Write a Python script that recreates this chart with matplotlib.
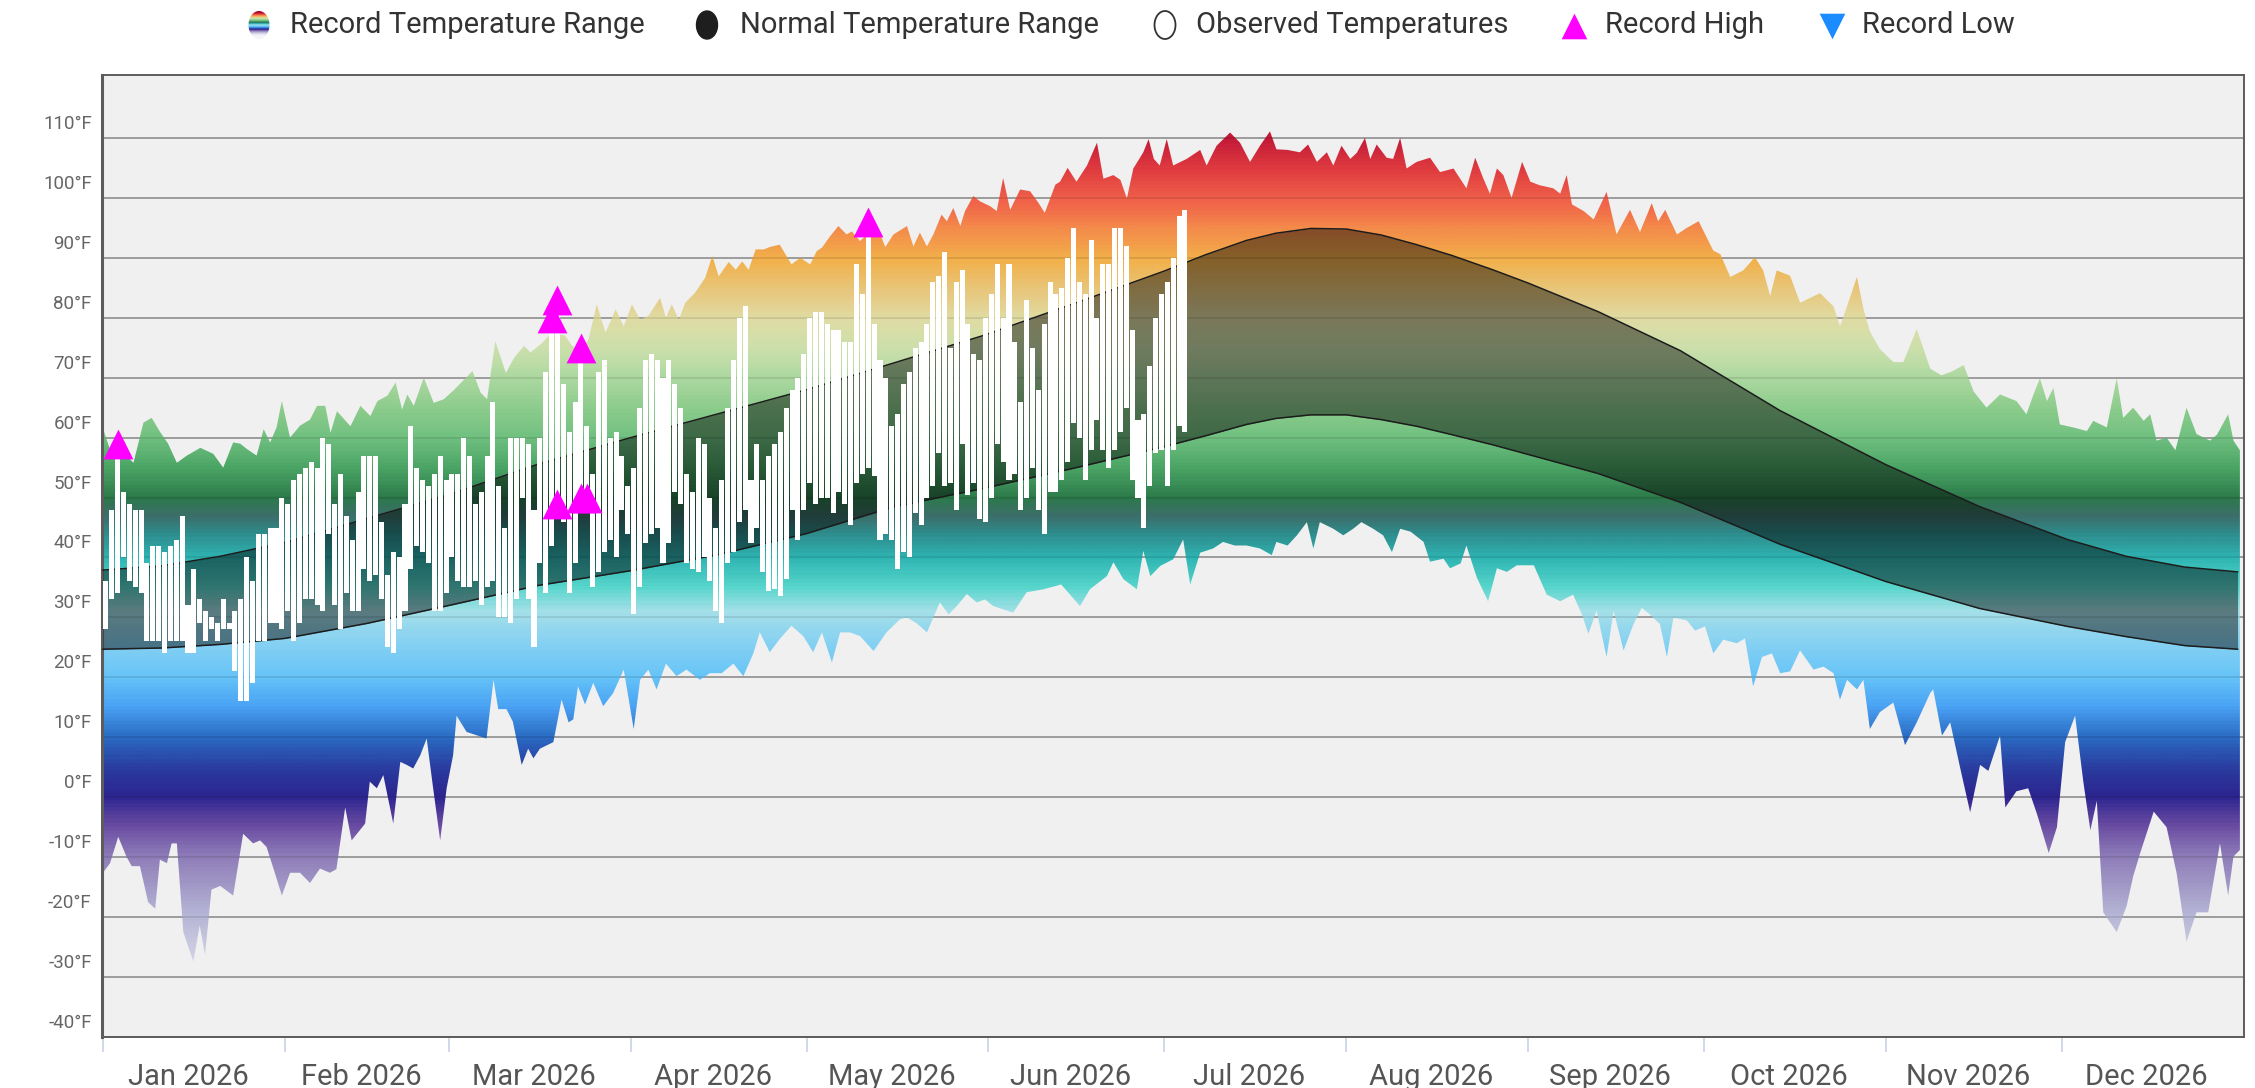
import numpy as np
import matplotlib
matplotlib.use('Agg')
import matplotlib.pyplot as plt
from matplotlib.colors import LinearSegmentedColormap
from matplotlib.patches import Polygon, Ellipse
from matplotlib.transforms import ScaledTranslation, blended_transform_factory

plt.rcParams['font.family'] = ['Roboto', 'DejaVu Sans']

# ---------------- data ----------------
month_labels = ['Jan 2026', 'Feb 2026', 'Mar 2026', 'Apr 2026', 'May 2026', 'Jun 2026',
                'Jul 2026', 'Aug 2026', 'Sep 2026', 'Oct 2026', 'Nov 2026', 'Dec 2026']
month_start = [0, 31, 59, 90, 120, 151, 181, 212, 243, 273, 304, 334, 365]
y_ticks = [-40, -30, -20, -10, 0, 10, 20, 30, 40, 50, 60, 70, 80, 90, 100, 110]

# record high edge (day of year, degF)
rec_high = [(0, 61.5), (1.2, 58), (2.3, 57.5), (4, 57), (5.2, 55.8), (6.9, 62.5), (8.3, 63.3), (9.7, 61),
            (11.1, 59), (12.6, 55.8), (14.3, 57), (16.6, 58.3), (18.8, 57.3), (20.5, 55), (22.2, 59.2),
            (23.4, 59), (24.4, 58.2), (26.2, 57), (27.4, 61.4), (28.5, 59.2), (29.6, 61.7), (30.5, 66.1),
            (31.9, 60), (33.6, 62), (35.3, 63), (36.5, 65.3), (37.9, 65.3), (38.8, 60.8), (39.9, 64.4),
            (42.2, 61.9), (43.9, 65.3), (45.6, 63.6), (46.8, 66.1), (48.5, 67), (49.9, 69.2), (51, 64.7),
            (51.9, 67.2), (53, 65.3), (54.7, 70), (56.4, 65.8), (58.1, 66.4), (59.9, 68), (61.6, 69.7),
            (63, 71.1), (64.4, 67.5), (65.5, 66.4), (66.9, 76.1), (68.7, 70.8), (70.1, 73.3), (71.8, 75.3),
            (72.9, 74.2), (74.9, 75.8), (76.5, 77.5), (78.8, 77), (80, 75.3), (81.5, 74.5), (82.8, 76.4),
            (84.2, 82.2), (85.7, 77.5), (87.4, 81.4), (88.8, 78.6), (90.2, 82.2), (91.6, 79.7), (93, 80.3),
            (95, 83.3), (96, 80), (97, 82.2), (98.2, 79.7), (99.3, 82.5), (101, 84.2), (102.7, 86.7),
            (103.9, 90.3), (105, 86.9), (106.7, 89.3), (107.9, 88), (109, 89.4), (110.1, 88), (111.3, 91.4),
            (112.7, 91.4), (113.7, 91.8), (115.4, 92.2), (117.4, 88.9), (118.9, 90), (120.6, 88.9),
            (121.7, 91.1), (122.6, 91.7), (124, 93.6), (125.4, 95.3), (126.8, 93.9), (127.7, 94.4),
            (129.1, 92.8), (130.5, 94), (132, 95.3), (133.4, 91.8), (134.8, 93.9), (137.1, 95.3),
            (138.2, 91.9), (139.3, 94.2), (140.5, 91.9), (141.6, 93.9), (143, 97.2), (143.9, 96.1),
            (145, 98.3), (146.2, 95.3), (147, 97.8), (148.4, 100.3), (149.6, 99.4), (151.3, 98.6),
            (152.4, 97.8), (153.5, 103.3), (154.7, 98), (156.4, 101.4), (158.1, 101.1), (159.5, 99.2),
            (160.6, 97.5), (162.4, 102.2), (163.2, 102.7), (164.5, 105), (166, 102.7), (167.8, 105.4),
            (169.5, 109.2), (170.6, 103.2), (172.3, 103.8), (173.5, 103), (174.6, 99.9), (175.7, 104.9),
            (177.4, 107.6), (178.3, 109.8), (179.2, 106.5), (180.2, 105.4), (181.4, 109.8), (182.5, 105.4),
            (184.8, 106.5), (187.1, 108), (188.2, 105.4), (189.9, 108.7), (192.2, 110.9), (193.9, 109.2),
            (195.6, 106), (197.3, 108.7), (199, 111.1), (200.1, 108.1), (202, 108), (204.1, 107.6),
            (205.5, 108.9), (207, 106), (208.7, 107.6), (209.8, 105.4), (211.2, 108.7), (212.7, 106.5),
            (213.8, 107.5), (215.2, 110), (216.1, 106.5), (217.2, 108.9), (218.9, 106.7), (220, 106.5),
            (221.2, 110), (222.3, 104.9), (224, 106), (226.3, 106.7), (228, 104.3), (230.3, 104.9),
            (232.5, 101.6), (234, 106.7), (235.4, 103.2), (236.5, 100.7), (237.7, 104.9), (238.8, 103.8),
            (240.2, 100), (242, 106), (243.4, 102.7), (245, 102.1), (247.3, 101.6), (248.5, 100.7),
            (249.6, 103.8), (250.5, 98.9), (252.5, 97.8), (254.2, 96.4), (256.4, 101), (258.1, 93.9),
            (260.4, 98), (262.1, 94.3), (264.1, 99.1), (265.2, 96.1), (266.4, 98), (268.4, 93.9),
            (270.1, 95), (272.1, 96.1), (274.6, 91.2), (275.8, 90.6), (277.5, 86.8), (279.7, 87.9),
            (281.7, 90.1), (283.1, 87.9), (284.3, 83.6), (285.4, 87.9), (287.7, 87), (289.4, 82.5),
            (292.8, 84.1), (295.1, 81.9), (296.2, 78.6), (297.4, 81.9), (299.1, 86.8), (300.2, 81.5),
            (301.3, 77.7), (303, 74.8), (305.3, 72.6), (307, 72.6), (309.3, 78.1), (311.6, 71.5),
            (313.5, 70.4), (315.2, 71), (317.3, 72.1), (319, 67.7), (321.2, 65), (323.5, 67.2),
            (326.3, 66.1), (328, 63.9), (329.2, 67.2), (330.3, 69.9), (331.5, 66.1), (332.6, 68.3),
            (333.7, 62.2), (336, 61.7), (338.3, 61.1), (339.4, 62.8), (341.7, 61.7), (343.4, 69.9),
            (344.5, 63.3), (346.2, 65), (348, 62.8), (349.1, 63.9), (350.2, 59.5), (351.9, 60),
            (353.4, 57.9), (355.3, 65), (357, 60.6), (359.3, 59.5), (360.5, 60.5), (362.4, 63.9),
            (363.3, 59.5), (364.4, 57.9)]

# record low edge (day of year, degF)
rec_low = [(0, -12.6), (1.2, -11), (2.6, -6.6), (4, -9.9), (4.9, -11.5), (6.3, -11.5), (7.7, -17.5),
           (8.9, -18.6), (9.7, -10.4), (10.9, -11), (11.7, -7.7), (12.6, -7.7), (13.7, -22.5), (15.4, -27.4),
           (16.5, -21.4), (17.4, -26.3), (18.5, -15.4), (20, -14.8), (22.2, -16.4), (23.9, -6.1),
           (25.6, -7.7), (26.8, -7.2), (27.9, -8.3), (29.3, -12.6), (30.5, -16.4), (31.9, -12.6),
           (33.6, -12.6), (35.3, -14.3), (37, -11.9), (38.7, -12.6), (39.8, -12), (41.3, -1.7),
           (42.4, -7.2), (43.8, -5.5), (44.7, -4.4), (45.5, 2.6), (46.7, 1.5), (47.8, 3.7), (49.5, -4.4),
           (50.7, 5.9), (51.8, 5.4), (52.9, 4.8), (54.1, 7), (55.2, 9.8), (56.3, 1.5), (57.5, -7.2),
           (58.6, 1.5), (59.7, 7), (60.3, 13.6), (62, 10.9), (65.4, 9.8), (66.6, 19.6), (67.4, 14.7),
           (68.8, 14.7), (69.9, 12.6), (71.4, 5.4), (72.5, 8.1), (73.4, 6.5), (74.5, 8.1), (76.8, 9.2),
           (78.2, 16.3), (79.4, 12.5), (80.2, 13), (81, 18.5), (82.2, 15.5), (83.6, 19.1), (85.3, 15.2),
           (87, 17.4), (88.8, 21.3), (90.5, 11.4), (91.6, 19.6), (93, 21.3), (94.4, 18), (96, 22.3),
           (97.8, 20.2), (99.5, 21.3), (101.8, 19.6), (103.5, 20.7), (105.5, 20.7), (107.5, 22.3),
           (109.2, 20.2), (110.9, 24), (112, 27.5), (113.7, 24.2), (115.4, 26.4), (117.4, 28.6),
           (119.4, 26.9), (121.1, 24.2), (122.6, 27.5), (124.3, 22.5), (125.7, 27.5), (127.4, 27.5),
           (129.1, 26.9), (131.4, 24.4), (133.6, 27.5), (135.9, 29.7), (137.1, 30), (138.8, 29),
           (140.5, 27.5), (142.7, 32.5), (144.2, 30.5), (145.6, 31.9), (147.3, 33.9), (149, 32.5),
           (150.4, 33), (151.8, 31.9), (155.2, 30.8), (157.5, 34.2), (160.4, 34.7), (163.4, 35.5),
           (166.6, 31.9), (168.3, 34.7), (171.2, 36.9), (172.3, 39.2), (174, 36.4), (176.3, 34.7),
           (177.4, 41.1), (178.6, 36.9), (180.3, 38.6), (182.5, 39.7), (184.2, 43), (185.4, 35.5),
           (187.1, 40.8), (189.3, 41.5), (191, 42.6), (193, 42), (195, 42), (197.3, 41.5), (199.3, 40.4),
           (200.1, 42.6), (202, 42), (203.6, 43.7), (205.3, 45.9), (206.4, 41.5), (207.5, 45.9),
           (209.8, 44.8), (211.5, 43.7), (213.2, 44.8), (214.6, 45.9), (216.6, 44.8), (218.3, 43.7),
           (219.8, 40.9), (221.2, 44.8), (223, 44.3), (225.2, 42.6), (226.3, 39.3), (228.6, 39.8),
           (229.7, 38.2), (231.5, 39), (232.5, 42), (234.3, 36.6), (236.2, 32.7), (237.7, 38.2),
           (239.4, 37.6), (241.1, 38.7), (244, 38.7), (246.2, 33.8), (248.5, 32.7), (250.7, 33.8),
           (252.2, 30.5), (253.3, 27.3), (254.7, 31.1), (256.4, 23.4), (257.6, 31.1), (259.3, 24.5),
           (261, 28.9), (262.4, 31.6), (263.8, 30.5), (265.5, 28.9), (266.7, 23.4), (267.8, 30),
           (270.1, 29.5), (271.5, 27.8), (273.2, 28.5), (274.6, 24), (276.3, 26.3), (278.6, 25.7),
           (280, 26.5), (281.4, 18.5), (282.9, 23.4), (284.6, 24), (286, 20.7), (287.7, 21),
           (289.4, 24.5), (291.7, 21.3), (293.4, 21.8), (295.1, 20.7), (296.2, 16.3), (297.4, 19.6),
           (299.1, 18), (300.2, 19.6), (301.3, 11.4), (303, 14.2), (305.3, 15.8), (307.3, 8.7),
           (309.3, 12.5), (311.6, 17.4), (312.1, 18), (313.6, 10.3), (315, 12.5), (316.7, 4.9),
           (318.4, -2.5), (320.1, 5.4), (321.5, 4.4), (323.5, 10.3), (324.4, -1.7), (326.3, 1),
           (328.3, 1.5), (329.8, -2.8), (331.8, -9.3), (333.2, -5), (334.6, 9.2), (336.3, 13.6),
           (337.7, 2.6), (338.9, -5.5), (340, -0.6), (341.1, -19.2), (343.4, -22.5), (345.1, -18.1),
           (346.2, -13.2), (347.4, -9.3), (349.7, -2.4), (351.9, -5), (353.6, -12.6), (355.3, -24.1),
           (357, -19.2), (359, -19.2), (361, -7.7), (362.4, -16.4), (363.3, -9.9), (364.4, -8.8)]

# normal high / low
norm_day = [0, 10, 20, 31, 45, 59, 74, 90, 105, 120, 135, 150, 166, 181, 188, 195, 200, 206, 212, 218,
            224, 230, 237, 243, 255, 269, 286, 304, 320, 335, 345, 355, 364]
norm_high = [37.9, 38.6, 40.2, 42.5, 46.5, 50.5, 55.5, 60, 64, 68, 72.5, 77, 82.5, 87.8, 90.5, 92.9,
             94.1, 94.9, 94.8, 93.8, 92.2, 90.4, 88, 85.8, 81, 74.5, 64.5, 55.5, 48.5, 43, 40.2, 38.4, 37.6]
norm_low = [24.7, 24.9, 25.5, 26.5, 29, 32, 35.3, 37.8, 40.5, 44, 48.5, 51.5, 55, 58.5, 60.3, 62.2, 63.2,
            63.8, 63.8, 63.0, 61.9, 60.5, 58.8, 57.2, 54, 49.2, 42.2, 36, 31.5, 28.5, 26.8, 25.3, 24.7]

# observed daily high / low from Jan 1
obs_high = [36, 48, 59, 51, 49, 48, 48, 39, 42, 42, 41, 42, 43, 47, 32, 38, 33, 31, 30, 29,
            33, 29, 31, 33, 40, 36, 44, 44, 45, 45, 50, 49, 53, 54, 55, 56, 55, 60,
            59, 49, 54, 47, 43, 51, 57, 57, 57, 46, 37, 41, 40, 49, 62, 55, 53, 52, 54, 57,
            53, 54, 54, 60, 57, 49, 51, 57, 66, 52, 45, 60, 60, 60, 59, 48, 60,
            71, 80, 83, 69, 61, 66, 75, 62, 54, 71, 73, 60, 61, 57, 52, 55, 65, 73, 74, 73,
            70, 73, 69, 65, 54, 51, 60, 59, 50, 45, 53, 65, 73, 80, 82, 53, 59,
            53, 57, 59, 61, 65, 68, 70, 74, 80, 81, 81, 79, 78, 78, 76, 76, 89, 84, 96, 79,
            73, 70, 62, 64, 69, 71, 75, 76, 79, 86, 87, 91, 75, 86, 88, 79, 74,
            73, 80, 84, 89, 80, 89, 76, 66, 83, 75, 68, 79, 86, 84, 85, 90, 95, 86, 84, 93,
            80, 89, 89, 95, 95, 92, 78, 63, 64, 72, 80, 84, 86, 90, 97, 98]
obs_low = [28, 33, 34, 40, 36, 35, 34, 26, 26, 26, 24, 26, 26, 26, 24, 24, 29, 26, 28, 26,
           28, 28, 21, 16, 16, 19, 26, 26, 29, 29, 28, 31, 26, 29, 33, 33, 32, 31,
           44, 32, 28, 34, 31, 31, 38, 36, 37, 33, 25, 24, 28, 31, 38, 42, 41, 39, 31, 31,
           34, 40, 36, 35, 35, 36, 32, 35, 36, 30, 30, 29, 33, 50, 33, 25, 39,
           34, 42, 49, 46, 34, 39, 50, 50, 35, 37.5, 41, 43, 40, 48, 44, 30.5, 35, 42.5, 44, 45,
           39, 42.5, 51, 49, 39, 38, 37.5, 40, 36, 31, 29, 39, 41, 46, 48, 42.5, 45,
           37.5, 34.4, 34.7, 33.6, 36.4, 48, 43, 48, 52.5, 49, 50, 50, 47.5, 51, 49, 45.5, 52.5, 54, 55, 53.6,
           43, 44, 43, 38, 41, 40, 47.5, 45.5, 50, 52, 57.5, 52, 52.5, 48, 59, 50.5, 52.5,
           46.4, 46, 50, 59, 56, 53, 54, 48, 50, 55, 48, 44, 51, 51, 53, 56, 62.5, 60, 53, 58,
           63, 58, 55, 58, 61, 65, 53, 50, 45, 52, 57.5, 58, 52, 58, 62, 61]

# days on which a record was set
record_high_days = [2, 76, 77, 81, 130]        # marker on the day's high
record_warm_low_days = [77, 81, 82]            # marker on the day's low

# ---------------- styling ----------------
W_PX, H_PX = 2255, 1088
X0, X1 = -0.22, 365.1
Y0, Y1 = -40, 120.5

temp_stops = [(-40, '#f4f4f8'), (-30, '#dcdcea'), (-20, '#b6b6d6'), (-10, '#8e7cb8'), (-5, '#6a4ca2'),
              (0, '#2c2490'), (5, '#2a3ea0'), (10, '#2a6cc4'), (15, '#4aa2f4'), (20, '#66c4f8'),
              (26, '#88d2f2'), (31, '#a6e0e8'), (35, '#58d6cc'), (40, '#2eb4b2'), (44, '#2e8c8c'),
              (47, '#3c6e6a'), (50, '#2c7a4a'), (55, '#4aa464'), (60, '#70c080'), (65, '#8ccc8c'),
              (70, '#acd8a0'), (75, '#cce0ac'), (80, '#e0dca4'), (85, '#e8c67a'), (90, '#f2b04a'),
              (95, '#f48c4a'), (100, '#f0604a'), (105, '#e03c40'), (110, '#c41c38'), (120.5, '#a00020')]
cmap = LinearSegmentedColormap.from_list(
    'rec', [((t - Y0) / (Y1 - Y0), c) for t, c in temp_stops])

fig = plt.figure(figsize=(W_PX / 100, H_PX / 100), dpi=100)
fig.patch.set_facecolor('white')

left, right, top, bottom = 101.7, 2244, 75, 1037
ax = fig.add_axes([left / W_PX, 1 - bottom / H_PX, (right - left) / W_PX, (bottom - top) / H_PX])
ax.set_facecolor('#f0f0f0')
ax.set_xlim(X0, X1)
ax.set_ylim(Y0, Y1)

# grid lines (under and faintly over the fill)
for t in y_ticks:
    ax.axhline(t, color='#a8a8a8', lw=1.3, zorder=1)
    ax.axhline(t, color=(0, 0, 0, 0.10), lw=1.3, zorder=2.5)

# record range with temperature gradient
hx = np.array([p[0] for p in rec_high]); hy = np.array([p[1] for p in rec_high])
lx = np.array([p[0] for p in rec_low]); ly = np.array([p[1] for p in rec_low])
verts = np.column_stack([np.r_[hx, lx[::-1]], np.r_[hy, ly[::-1]]])
poly = Polygon(verts, closed=True, facecolor='none', edgecolor='none', transform=ax.transData)
ax.add_patch(poly)
grad = np.linspace(Y0, Y1, 800).reshape(-1, 1)
im = ax.imshow(grad, extent=[X0, X1, Y0, Y1], origin='lower', aspect='auto', cmap=cmap,
               vmin=Y0, vmax=Y1, zorder=2, interpolation='bilinear')
im.set_clip_path(poly)

# normal range
ax.fill_between(norm_day, norm_low, norm_high, color='black', alpha=0.45, lw=0, zorder=3)
ax.plot(norm_day, norm_high, color='#1c1c1c', lw=1.1, zorder=3.2)
ax.plot(norm_day, norm_low, color='#1c1c1c', lw=1.1, zorder=3.2)

# observed
oh = np.array(obs_high, dtype=float); ol = np.array(obs_low, dtype=float)
od = np.arange(len(oh)) + 0.5
ax.bar(od, oh - ol, bottom=ol, width=0.86, color='white', lw=0, zorder=4, antialiased=False)

# record markers
rh = np.array(record_high_days)
ax.scatter(od[rh], oh[rh], marker='^', s=460, color='#ff00ff', lw=0, zorder=5)
rl = np.array(record_warm_low_days)
ax.scatter(od[rl], ol[rl], marker='^', s=460, color='#ff00ff', lw=0, zorder=5)

# spines
for s in ax.spines.values():
    s.set_color('#5c5c5c'); s.set_linewidth(1.4)
ax.spines['left'].set_linewidth(2.2)

# y labels (drawn slightly above each grid line)
ax.set_yticks([])
ytr = blended_transform_factory(ax.transAxes, ax.transData) + \
    ScaledTranslation(-10 / 100, 14 / 100, fig.dpi_scale_trans)
for t in y_ticks:
    ax.text(0, t, f'{t}°F', transform=ytr, ha='right', va='center', fontsize=13.5, color='#666666')

# x ticks
ax.set_xticks(month_start[:-1])
ax.set_xticklabels([])
ax.tick_params(axis='x', which='major', length=11, width=1.2, color='#c8d2e6', direction='out')
mids = [(month_start[i] + month_start[i + 1]) / 2 - 1 for i in range(12)]
ax.set_xticks(mids, minor=True)
ax.set_xticklabels(month_labels, minor=True, fontsize=21, color='#555555')
ax.tick_params(axis='x', which='minor', length=0, pad=19)

# ---------------- legend (figure pixel coordinates) ----------------
lg = fig.add_axes([0, 0, 1, 1], zorder=10)
lg.set_facecolor('none')
lg.axis('off')
ly_c = 25
icons_x = [259, 707, 1165, 1574, 1832]
texts_x = [290, 740, 1196, 1605, 1862]
labels = ['Record Temperature Range', 'Normal Temperature Range', 'Observed Temperatures',
          'Record High', 'Record Low']
el = Ellipse((icons_x[0], ly_c), 21, 28, facecolor='none', edgecolor='none')
lg.add_patch(el)
gim = lg.imshow(np.linspace(Y0, Y1, 200).reshape(-1, 1), extent=[icons_x[0] - 12, icons_x[0] + 12,
                ly_c + 15, ly_c - 15], origin='lower', aspect='auto', cmap=cmap, vmin=-15, vmax=112)
gim.set_clip_path(el)
lg.add_patch(Ellipse((icons_x[1], ly_c), 21, 28, facecolor='#1e1e1e', edgecolor='#1e1e1e'))
lg.add_patch(Ellipse((icons_x[2], ly_c), 21, 28, facecolor='white', edgecolor='#333333', lw=1.3))
lg.scatter([icons_x[3]], [ly_c + 1], marker='^', s=340, color='#ff00ff', lw=0)
lg.scatter([icons_x[4]], [ly_c + 1], marker='v', s=340, color='#1a8cff', lw=0)
for x, t in zip(texts_x, labels):
    lg.text(x, ly_c, t, ha='left', va='center', fontsize=21, color='#333333')
lg.set_xlim(0, W_PX)
lg.set_ylim(H_PX, 0)

fig.savefig('out.png', dpi=100, facecolor='white')
